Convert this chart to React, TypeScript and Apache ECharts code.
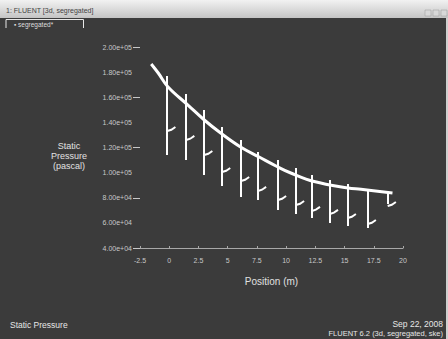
import React, { useEffect, useRef } from "react";
import * as echarts from "echarts";

// Static pressure smooth envelope (position m, pressure Pa)
const curveX = [-1.54, -0.94, -0.1, 1.6, 3.0, 4.4, 6.1, 7.7, 9.3, 10.4, 12.4, 15.3, 16.4, 19.1];
const curveY = [186500, 179300, 168200, 153800, 141900, 131500, 120400, 112400, 104500, 99700, 92900, 87800, 86800, 83800];

// Baffle drops (position, top, bottom, hook level)
const baffleX = [-0.17, 1.45, 2.99, 4.52, 6.14, 7.59, 9.3, 10.84, 12.2, 13.74, 15.27, 16.98, 18.69];
const baffleTop = [176900, 162600, 149900, 136300, 126000, 116400, 110100, 103700, 98100, 94100, 90900, 86200, 84600];
const baffleBottom = [114000, 110100, 98100, 89400, 80600, 78200, 70300, 67100, 63900, 59900, 57500, 55900, 75000];
const baffleHook = [133100, 126000, 114000, 100500, 93300, 85400, 78200, 74200, 69500, 67100, 63900, 59100, 73400];

const xTickValues = [-2.5, 0, 2.5, 5, 7.5, 10, 12.5, 15, 17.5, 20];

const FONT = "'Liberation Sans', Arial, sans-serif";

function fmtExp(v: number): string {
  const s = v.toExponential(2);
  const m = s.match(/^(-?[\d.]+)e([+-])(\d+)$/);
  if (!m) return s;
  return `${m[1]}e${m[2]}${m[3].padStart(2, "0")}`;
}

export default function App() {
  const ref = useRef<HTMLDivElement>(null);
  useEffect(() => {
    if (!ref.current) return;
    const chart = echarts.init(ref.current, undefined, { renderer: "svg" });
    const curveData = curveX.map((x, i) => [x, curveY[i]]);
    const verticals = baffleX.map((x, i) => ({ coords: [[x, baffleTop[i]], [x, baffleBottom[i]]] }));
    const hooks = baffleX.map((x, i) => ({
      coords: [[x, baffleHook[i]], [x + 0.35, baffleHook[i] + 1000], [x + 0.7, baffleHook[i] + 3200]],
    }));
    chart.setOption({
      animation: false,
      backgroundColor: "#3b3b3b",
      textStyle: { fontFamily: FONT },
      grid: { left: 140, right: 45, top: 47, bottom: 91 },
      xAxis: {
        type: "value",
        min: -2.5,
        max: 20,
        interval: 2.5,
        axisLine: { show: true, lineStyle: { color: "#a8a8a8", width: 1 } },
        axisTick: { show: true, inside: true, length: 2, lineStyle: { color: "#a8a8a8" } },
        axisLabel: {
          color: "#c8c8c8",
          fontSize: 7,
          margin: 9,
          customValues: xTickValues,
          formatter: (v: number) => String(v),
        },
        splitLine: { show: false },
        name: "Position (m)",
        nameLocation: "middle",
        nameGap: 28,
        nameTextStyle: { color: "#e0e0e0", fontSize: 10, fontFamily: FONT },
      },
      yAxis: [
        {
          type: "value",
          min: 40000,
          max: 200000,
          interval: 20000,
          axisLine: { show: false },
          axisTick: { show: false },
          axisLabel: { color: "#c8c8c8", fontSize: 7, margin: 8, formatter: (v: number) => fmtExp(v) },
          splitLine: { show: false },
        },
        {
          type: "value",
          position: "left",
          min: 40000,
          max: 200000,
          interval: 40000,
          axisLine: { show: false },
          axisTick: { show: true, length: 7, lineStyle: { color: "#c8c8c8" } },
          axisLabel: { show: false },
          splitLine: { show: false },
        },
      ],
      series: [
        {
          type: "line",
          data: curveData,
          smooth: 0.4,
          showSymbol: false,
          lineStyle: { color: "#ffffff", width: 3 },
        },
        {
          type: "lines",
          coordinateSystem: "cartesian2d",
          data: verticals,
          lineStyle: { color: "#ffffff", width: 2, opacity: 1 },
        },
        {
          type: "lines",
          coordinateSystem: "cartesian2d",
          polyline: true,
          data: hooks,
          lineStyle: { color: "#ffffff", width: 2, opacity: 1 },
        },
      ],
      graphic: [
        {
          type: "rect",
          shape: { x: 0, y: 0, width: 448, height: 18 },
          style: {
            fill: new echarts.graphic.LinearGradient(0, 0, 0, 1, [
              { offset: 0, color: "#f2f2f2" },
              { offset: 1, color: "#c4c4c4" },
            ]),
          },
          silent: true,
        },
        {
          type: "text",
          x: 6,
          y: 10,
          style: { text: "1: FLUENT [3d, segregated]", fill: "#444", fontSize: 7, fontFamily: FONT, verticalAlign: "middle" },
        },
        { type: "rect", shape: { x: 425, y: 10, width: 6, height: 6 }, style: { fill: "#d8d8d8", stroke: "#999", lineWidth: 0.5 } },
        { type: "rect", shape: { x: 433, y: 10, width: 6, height: 6 }, style: { fill: "#d8d8d8", stroke: "#999", lineWidth: 0.5 } },
        { type: "rect", shape: { x: 441, y: 10, width: 6, height: 6 }, style: { fill: "#d8d8d8", stroke: "#999", lineWidth: 0.5 } },
        {
          type: "polyline",
          shape: { points: [[6, 28], [6, 19.5], [83.5, 19.5], [83.5, 28]] },
          style: { stroke: "#e8e8e8", lineWidth: 1, fill: null },
        },
        {
          type: "text",
          x: 14,
          y: 24,
          style: { text: "\u25aa segregated*", fill: "#dddddd", fontSize: 6.5, fontFamily: FONT, verticalAlign: "middle" },
        },
        {
          type: "text",
          x: 69,
          y: 156,
          style: {
            text: "Static\nPressure\n(pascal)",
            fill: "#e2e2e2",
            fontSize: 9,
            lineHeight: 10,
            fontFamily: FONT,
            align: "center",
            verticalAlign: "middle",
          },
        },
        {
          type: "text",
          x: 10,
          y: 325,
          style: { text: "Static Pressure", fill: "#e6e6e6", fontSize: 8.5, fontFamily: FONT, verticalAlign: "middle" },
        },
        {
          type: "text",
          x: 443,
          y: 324,
          style: { text: "Sep 22, 2008", fill: "#e6e6e6", fontSize: 8.5, fontFamily: FONT, align: "right", verticalAlign: "middle" },
        },
        {
          type: "text",
          x: 443,
          y: 333,
          style: {
            text: "FLUENT 6.2 (3d, segregated, ske)",
            fill: "#e6e6e6",
            fontSize: 7.5,
            fontFamily: FONT,
            align: "right",
            verticalAlign: "middle",
          },
        },
        {
          type: "rect",
          shape: { x: 446, y: 18, width: 2, height: 321 },
          style: { fill: "#cfcfcf" },
          silent: true,
        },
      ],
    });
    return () => chart.dispose();
  }, []);
  return (
    <div
      ref={ref}
      style={{ position: "fixed", left: 0, top: 0, width: 448, height: 339 }}
    />
  );
}
